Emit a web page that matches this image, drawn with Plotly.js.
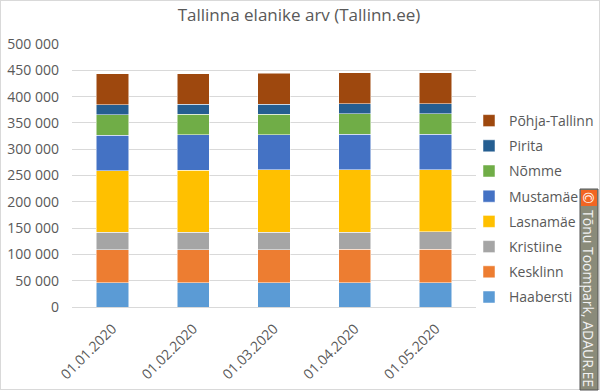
<!DOCTYPE html>
<html>
<head>
<meta charset="utf-8">
<script src="https://cdn.plot.ly/plotly-3.0.1.min.js"></script>
<style>
html,body{margin:0;padding:0;background:#fff;}
#wrap{position:absolute;left:0;top:0;width:598px;height:388px;border:1px solid #d9d9d9;}
#chart{position:absolute;left:-1px;top:-1px;width:600px;height:392px;}
</style>
</head>
<body>
<div id="wrap"></div>
<div id="chart"></div>
<script>
const dates = ["01.01.2020","01.02.2020","01.03.2020","01.04.2020","01.05.2020"];
const haabersti   = [46000, 46050, 46100, 46150, 46200];
const kesklinn    = [63000, 63100, 63200, 63300, 63600];
const kristiine   = [33000, 33050, 33100, 33100, 33150];
const lasnamae    = [117500, 118000, 118200, 118300, 118400];
const mustamae    = [67000, 67050, 67100, 67150, 67200];
const nomme       = [39000, 39050, 39100, 39100, 39150];
const pirita      = [19000, 19050, 19100, 19100, 19150];
const pohjaTallinn= [58500, 58300, 58600, 58700, 58800];
const seriesNames = ["Haabersti","Kesklinn","Kristiine","Lasnamäe","Mustamäe","Nõmme","Pirita","Põhja-Tallinn"];
const seriesValues = [haabersti,kesklinn,kristiine,lasnamae,mustamae,nomme,pirita,pohjaTallinn];
const colors = ["#5B9BD5","#ED7D31","#A5A5A5","#FFC000","#4472C4","#70AD47","#255E91","#9E480E"];

const FONT = "Open Sans, sans-serif";
const TXT = "#595959";

const traces = seriesNames.map((n,i)=>({
  type:"bar", name:n, x:dates, y:seriesValues[i],
  marker:{color:colors[i], line:{color:"#ffffff", width:0.5}},
  legendgroup:"g"+i, legendrank: 100 - i
}));

const W=600,H=392,L=73,R=123,T=45,B=84;
const pw=W-L-R, ph=H-T-B;
const px=(x)=>(x-L)/pw;
const py=(y)=>(H-B-y)/ph;

const layout = {
  width:W, height:H,
  margin:{l:L,r:R,t:T,b:B,pad:0,autoexpand:false},
  paper_bgcolor:"rgba(0,0,0,0)", plot_bgcolor:"rgba(0,0,0,0)",
  separators:", ",
  barmode:"stack", bargap:0.6,
  font:{family:FONT, color:TXT, size:14},
  title:{text:"Tallinna elanike arv (Tallinn.ee)", x:0.5, xref:"container", xanchor:"center", y:0.958, yref:"container", yanchor:"middle", font:{size:17, color:TXT, family:FONT}},
  xaxis:{type:"category", tickangle:-45, tickfont:{size:14,color:TXT}, showline:true, linecolor:"#d9d9d9", linewidth:1, ticks:"", showgrid:false, ticklabelstandoff:7},
  yaxis:{range:[0,500000], dtick:50000, tickformat:",d", gridcolor:"#d9d9d9", gridwidth:1, zeroline:false, tickfont:{size:14,color:TXT}, ticks:"", ticklen:0, automargin:false, ticklabelstandoff:12},
  legend:{x:px(470), xanchor:"left", y:py(210), yanchor:"middle", traceorder:"grouped", tracegroupgap:4, font:{size:14,color:TXT}, itemwidth:30},
  shapes:[
    {type:"rect", xref:"paper", yref:"paper", x0:px(581), x1:px(599), y0:py(391), y1:py(190), fillcolor:"#8a8b7a", line:{color:"#555555", width:1}, layer:"above"},
    {type:"rect", xref:"paper", yref:"paper", x0:px(582), x1:px(598), y0:py(207), y1:py(191), fillcolor:"#f26522", line:{width:0}, layer:"above"}
  ],
  annotations:[
    {xref:"paper", yref:"paper", x:px(590), y:py(199), text:"©", showarrow:false, font:{size:14,color:"#ffffff",family:FONT}, textangle:90, xanchor:"center", yanchor:"middle"},
    {xref:"paper", yref:"paper", x:px(590), y:py(299), text:"Tõnu Toompark, ADAUR.EE", showarrow:false, font:{size:14,color:"#f2f2f2",family:FONT}, textangle:90, xanchor:"center", yanchor:"middle"}
  ]
};
Plotly.newPlot("chart", traces, layout, {displayModeBar:false, staticPlot:true});
</script>
</body>
</html>
